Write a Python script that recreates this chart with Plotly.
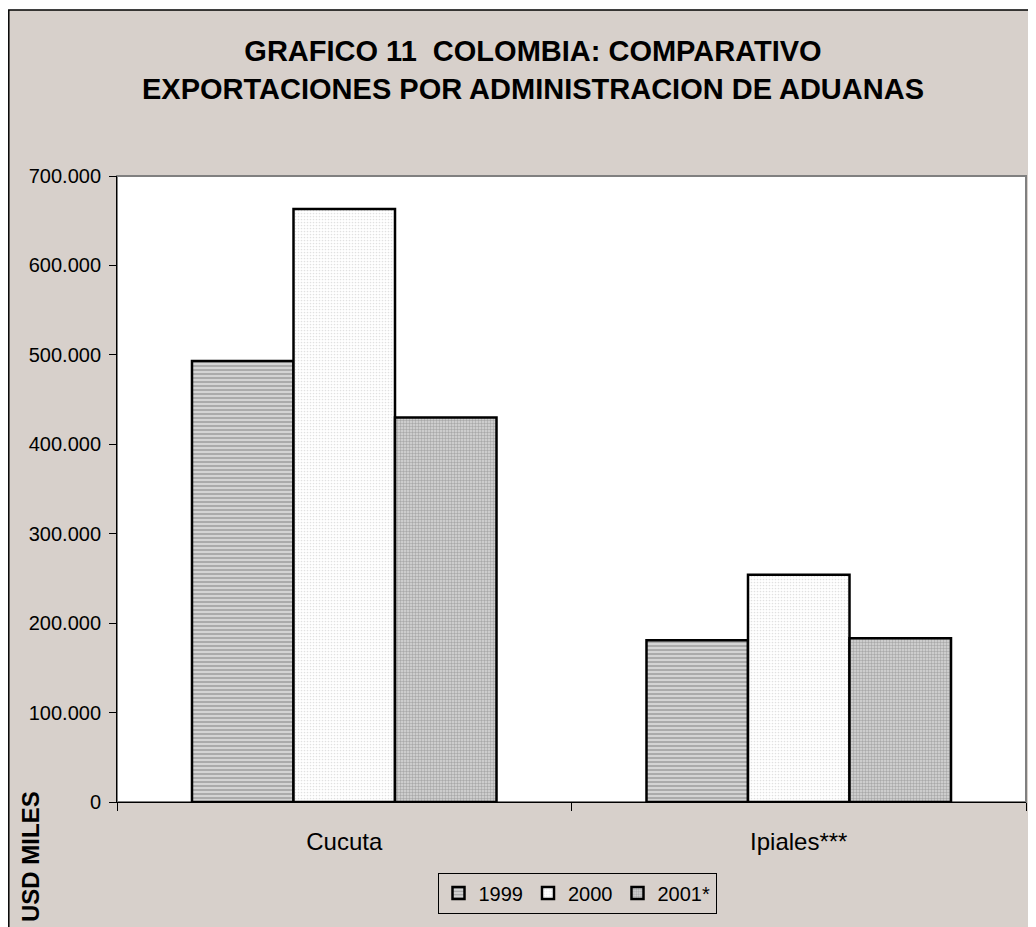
import plotly.graph_objects as go

categories = ["Cucuta", "Ipiales***"]
years = ["1999", "2000", "2001*"]
v1999 = [493000, 181000]
v2000 = [663000, 254000]
v2001 = [430000, 183000]

series = [v1999, v2000, v2001]
patterns = [
    dict(shape="-", fgcolor="#7a7a7a", bgcolor="#d4d4d4", size=4, solidity=0.45),
    dict(shape=".", fgcolor="#c4c4c4", bgcolor="#ffffff", size=3, solidity=0.25),
    dict(shape=".", fgcolor="#7a7a7a", bgcolor="#d8d8d8", size=3, solidity=0.5),
]

BG = "#d7d0cb"
FONT = "Arial, Liberation Sans, sans-serif"

fig = go.Figure()
for name, vals, pat in zip(years, series, patterns):
    fig.add_trace(go.Bar(
        x=categories, y=vals, name=name,
        marker=dict(color=pat["bgcolor"], pattern=pat,
                    line=dict(color="black", width=2.5)),
    ))

# page has an 8px body margin; figure is offset by it
OFF = 8
W, H = 1036 - OFF, 927 - OFF
PL, PR, PT, PB = 117, 1026, 176, 802  # plot area in page pixels
L, T = PL - OFF, PT - OFF
R = W - (PR - OFF)
B = H - (PB - OFF)
pw = PR - PL
ph = PB - PT

def px_x(p):
    return (p - PL) / pw

def px_y(p):
    return (PB - p) / ph

fig.update_layout(
    width=W, height=H,
    margin=dict(l=L, r=R, t=T, b=B),
    paper_bgcolor="white",
    plot_bgcolor="white",
    font=dict(family=FONT, color="black", size=20),
    barmode="group",
    bargap=0.33,
    bargroupgap=0,
    showlegend=True,
    legend=dict(
        orientation="h", x=px_x(577), y=px_y(893),
        xanchor="center", yanchor="middle",
        bgcolor=BG, bordercolor="black", borderwidth=1,
        font=dict(size=20), itemwidth=30, tracegroupgap=0,
    ),
    title=dict(
        text="GRAFICO 11  COLOMBIA: COMPARATIVO<br>EXPORTACIONES POR ADMINISTRACION DE ADUANAS",
        x=(533 - OFF) / W, xanchor="center", y=1 - (61 - OFF) / H, yanchor="middle",
        font=dict(size=29, family=FONT, color="black", weight="bold"),
        pad=dict(t=0, b=0),
    ),
    shapes=[
        dict(type="rect", xref="paper", yref="paper",
             x0=px_x(OFF + 0.8), x1=px_x(1060), y0=px_y(960), y1=px_y(10),
             fillcolor=BG, line=dict(color="black", width=1.5), layer="below"),
        dict(type="rect", xref="paper", yref="paper",
             x0=0, x1=1, y0=0, y1=1,
             fillcolor="white", line=dict(color="#808080", width=2), layer="below"),
    ],
    annotations=[
        dict(text="<b>USD MILES</b>", xref="paper", yref="paper",
             x=px_x(30), y=px_y(857), textangle=-90, showarrow=False,
             xanchor="center", yanchor="middle",
             font=dict(size=24, family=FONT, color="black")),
    ],
)

fig.update_yaxes(
    range=[0, 700000], dtick=100000, tickformat=",d",
    showgrid=False, zeroline=False,
    showline=True, linecolor="black", linewidth=1,
    ticks="outside", ticklen=7, tickcolor="black",
    tickfont=dict(size=20), ticklabelstandoff=4,
)
fig.update_xaxes(
    showgrid=False, showline=True, linecolor="black", linewidth=1,
    ticks="outside", ticklen=8, tickcolor="black", tickson="boundaries",
    tickfont=dict(size=24), ticklabelstandoff=18,
)
fig.update_layout(separators=",.")

fig.write_html("out.html")
